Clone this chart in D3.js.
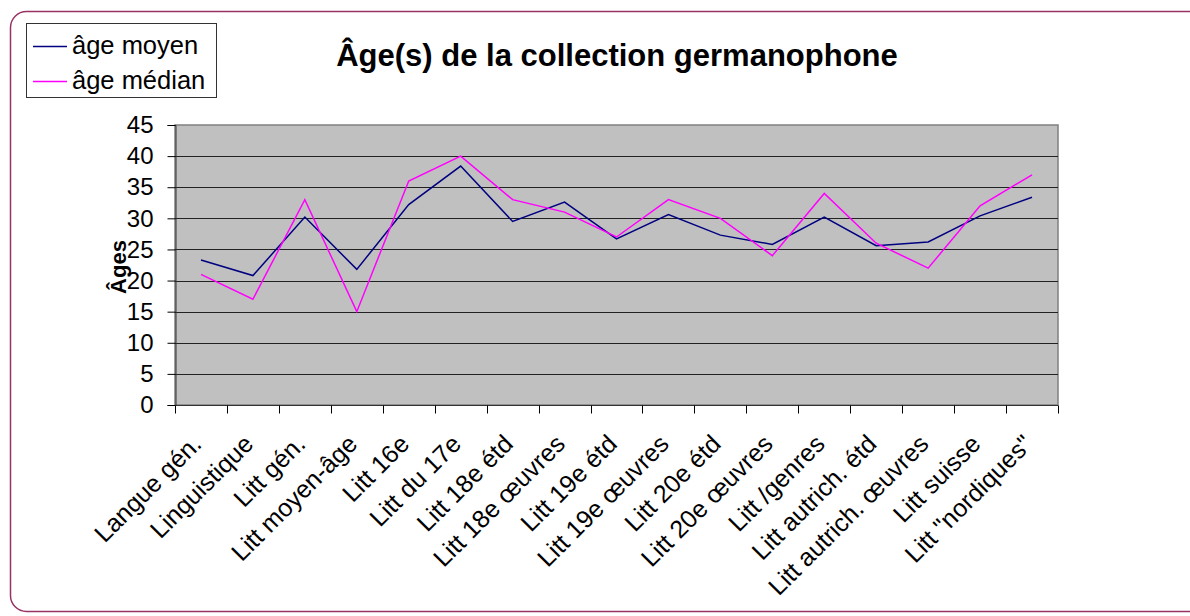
<!DOCTYPE html>
<html>
<head>
<meta charset="utf-8">
<title>Âge(s) de la collection germanophone</title>
<script src="https://cdn.jsdelivr.net/npm/d3@7/dist/d3.min.js"></script>
<style>
  body { margin: 0; background: #fff; }
  text { font-family: "Liberation Sans", Arial, sans-serif; fill: #000; }
</style>
</head>
<body>
<script>
// categories along the x axis
const categories = [
  "Langue gén.", "Linguistique", "Litt gén.", "Litt moyen-âge", "Litt 16e",
  "Litt du 17e", "Litt 18e étd", "Litt 18e œuvres", "Litt 19e étd",
  "Litt 19e œuvres", "Litt 20e étd", "Litt 20e œuvres", "Litt /genres",
  "Litt autrich. étd", "Litt autrich. œuvres", "Litt suisse", "Litt \"nordiques\""
];
// values
const ageMoyen  = [23.3, 20.8, 30.2, 21.8, 32.2, 38.4, 29.5, 32.6, 26.7, 30.6, 27.3, 25.8, 30.2, 25.6, 26.2, 30.4, 33.4];
const ageMedian = [21, 17, 33, 15, 36, 40, 33, 31, 27, 33, 30, 24, 34, 26, 22, 32, 37];
const yTicks = [0, 5, 10, 15, 20, 25, 30, 35, 40, 45];

const series = [
  { name: "âge moyen", values: ageMoyen, color: "#000080" },
  { name: "âge médian", values: ageMedian, color: "#ff00ff" }
];

const W = 1190, H = 616;
const plot = { left: 175, top: 125, right: 1058, bottom: 405 };

const svg = d3.select("body").append("svg")
  .attr("width", W).attr("height", H);

// outer frame (rounded, runs off the right edge)
svg.append("rect")
  .attr("x", 10.5).attr("y", 11.5)
  .attr("width", 1200).attr("height", 600)
  .attr("rx", 16)
  .attr("fill", "none")
  .attr("stroke", "#993366")
  .attr("stroke-width", 1.5);

const x = d3.scaleBand().domain(categories).range([plot.left, plot.right]);
const y = d3.scaleLinear().domain([0, 45]).range([plot.bottom, plot.top]);

// plot background
svg.append("rect")
  .attr("x", plot.left).attr("y", plot.top)
  .attr("width", plot.right - plot.left).attr("height", plot.bottom - plot.top)
  .attr("fill", "#c0c0c0")
  .attr("stroke", "#808080")
  .attr("stroke-width", 1.5);

// gridlines
svg.append("g").selectAll("line")
  .data(yTicks.filter(d => d > 0 && d < 45))
  .join("line")
  .attr("x1", plot.left).attr("x2", plot.right)
  .attr("y1", d => Math.round(y(d)) + 0.5).attr("y2", d => Math.round(y(d)) + 0.5)
  .attr("stroke", "#222");

// y axis
const yAxis = svg.append("g")
  .attr("transform", `translate(${plot.left + 0.5},0)`)
  .call(d3.axisLeft(y).tickValues(yTicks).tickSize(8).tickPadding(14));
yAxis.select(".domain").attr("stroke", "#333");
yAxis.selectAll("text").style("font-size", "24px");

// x axis: ticks on band edges
const xAxis = svg.append("g")
  .attr("transform", `translate(0,${plot.bottom + 0.5})`);
xAxis.append("line")
  .attr("x1", plot.left).attr("x2", plot.right)
  .attr("stroke", "#333");
const edges = categories.map(c => x(c)).concat([x.range()[1]]);
xAxis.selectAll("line.tick").data(edges).join("line")
  .attr("class", "tick")
  .attr("x1", d => Math.round(d) + 0.5).attr("x2", d => Math.round(d) + 0.5)
  .attr("y1", 0).attr("y2", 8)
  .attr("stroke", "#000");
xAxis.selectAll("text").data(categories).join("text")
  .attr("transform", d => `translate(${x(d) + x.bandwidth() / 2 + 2},${40}) rotate(-45)`)
  .attr("text-anchor", "end")
  .style("font-size", "25px")
  .text(d => d);

// lines
const line = d3.line()
  .x((d, i) => x(categories[i]) + x.bandwidth() / 2)
  .y(d => y(d));
svg.append("g").selectAll("path")
  .data(series)
  .join("path")
  .attr("d", d => line(d.values))
  .attr("fill", "none")
  .attr("stroke", d => d.color)
  .attr("stroke-width", 1.5);

// title
svg.append("text")
  .attr("x", 617).attr("y", 66)
  .attr("text-anchor", "middle")
  .style("font-size", "31px").style("font-weight", "bold")
  .text("Âge(s) de la collection germanophone");

// y label
svg.append("text")
  .attr("transform", "translate(126,267) rotate(-90)")
  .attr("text-anchor", "middle")
  .style("font-size", "22px").style("font-weight", "bold")
  .text("Âges");

// legend
const lg = svg.append("g");
lg.append("rect")
  .attr("x", 26.5).attr("y", 23.5)
  .attr("width", 190).attr("height", 74)
  .attr("fill", "#fff").attr("stroke", "#333");
const item = lg.selectAll("g").data(series).join("g")
  .attr("transform", (d, i) => `translate(0,${46 + i * 35})`);
item.append("line")
  .attr("x1", 33).attr("x2", 67)
  .attr("y1", 0.5).attr("y2", 0.5)
  .attr("stroke", d => d.color).attr("stroke-width", 1.5);
item.append("text")
  .attr("x", 72).attr("y", 8)
  .style("font-size", "25.5px")
  .text(d => d.name);
</script>
</body>
</html>
